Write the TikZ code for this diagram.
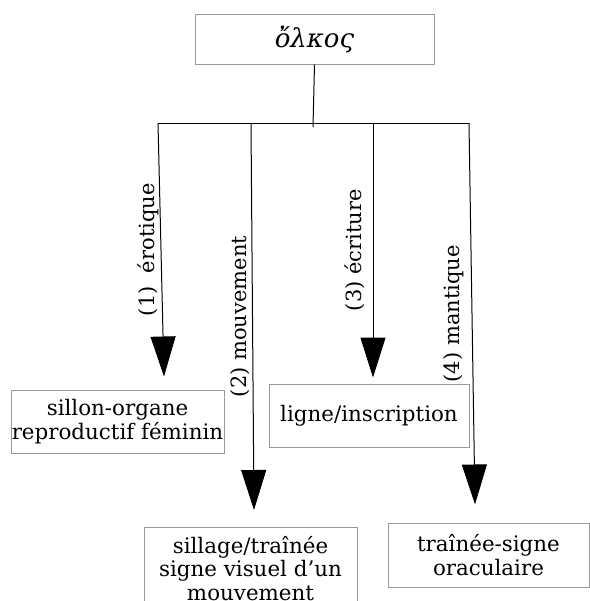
\documentclass[tikz,border=0pt]{standalone}
\usepackage{fontspec}
\setmainfont{DejaVu Serif}
\newfontfamily\grfont[Script=Greek]{DejaVu Serif}
\usetikzlibrary{arrows.meta}

\begin{document}
\begin{tikzpicture}[x=0.5pt,y=-0.5pt,
  box/.style={draw=gray!80,line width=0.5pt,align=center,inner sep=0pt,
    font=\fontsize{10.7}{11.75}\selectfont},
  lbl/.style={font=\fontsize{10.5}{12}\selectfont,inner sep=1pt},
  arr/.style={-{Triangle[width=12.5pt,length=20pt]},line width=0.5pt}]
  \useasboundingbox (0,0) rectangle (590,601);
  \clip (0,0) rectangle (590,601);
  \node[box,minimum width=119.5pt,minimum height=25pt,
    font=\fontsize{13}{14}\selectfont\grfont\itshape] (olkos) at (314.5,39) {ὄλκος};
  \node[box,minimum width=106.5pt,minimum height=31.5pt] (sillon) at (117.5,421.5) {sillon-organe\\reproductif féminin};
  \node[box,minimum width=100pt,minimum height=31.5pt] (ligne) at (369,415.5) {ligne/inscription};
  \node[box,minimum width=106.5pt,minimum height=41pt,anchor=north] (sillage) at (250.5,527) {sillage/traînée\\signe visuel d'un\\mouvement};
  \node[box,minimum width=100.5pt,minimum height=32pt] (trainee) at (488.5,555) {traînée-signe\\oraculaire};
  \coordinate (hub) at (313,127);
  \coordinate (b1) at (158,123);
  \coordinate (b2) at (251,123);
  \coordinate (b3) at (373,123);
  \coordinate (b4) at (469,123);
  \draw[line width=0.5pt] (olkos.south) -- (hub);
  \draw[line width=0.5pt] (b1) -- (b4);
  \draw[arr] (b1) -- node[lbl,above,rotate=90]{(1)\ \ érotique} ([xshift=23.25pt,yshift=6.5pt]sillon.north);
  \draw[arr] (b2) -- node[lbl,above,rotate=90]{(2) mouvement} ([xshift=1.75pt,yshift=8.5pt]sillage.north);
  \draw[arr] (b3) -- node[lbl,above,rotate=90,inner ysep=4pt]{(3) écriture} ([xshift=2pt,yshift=3pt]ligne.north);
  \draw[arr] (b4) -- node[lbl,above,rotate=90,inner ysep=4pt]{(4) mantique} ([xshift=-6.75pt,yshift=9pt]trainee.north);
\end{tikzpicture}
\end{document}
